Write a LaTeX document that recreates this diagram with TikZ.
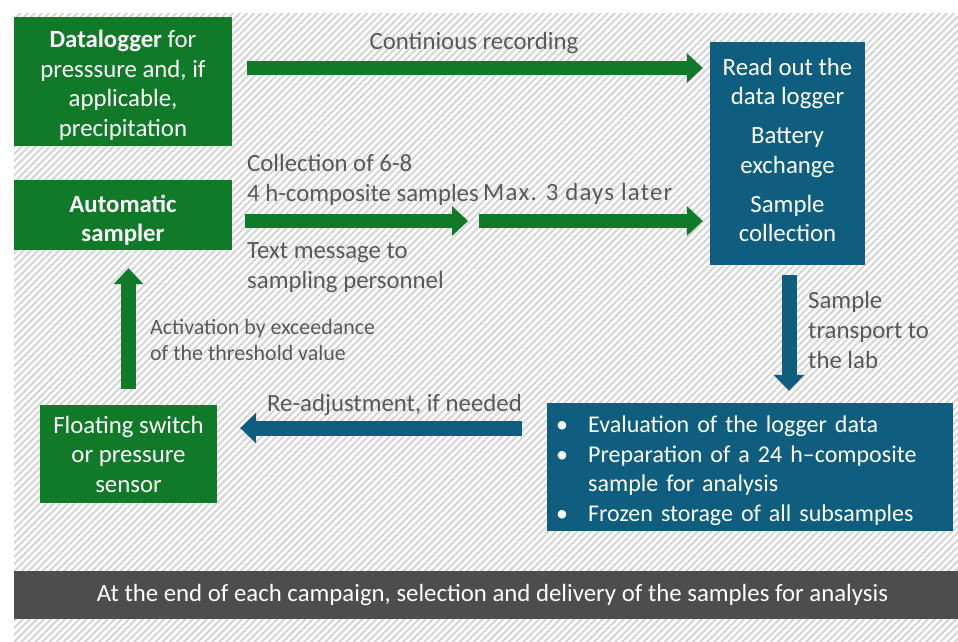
\documentclass[tikz,border=0pt]{standalone}
\usepackage{fontspec}
\setmainfont{Carlito}
\usetikzlibrary{arrows.meta,patterns.meta}
\definecolor{gfill}{HTML}{107A28}
\definecolor{bfill}{HTML}{0F5E80}
\definecolor{dbar}{HTML}{4D4D4D}
\definecolor{tgray}{HTML}{595959}
\definecolor{hatchc}{HTML}{D4D4D4}
\begin{document}
\begin{tikzpicture}[x=1pt,y=-1pt,
  every node/.style={font=\fontsize{24.8}{29.5}\selectfont},
  gbox/.style={fill=gfill, text=white, align=center, inner sep=0pt},
  bbox/.style={fill=bfill, text=white, align=center, inner sep=0pt},
  lbl/.style={text=tgray, align=left, inner sep=0pt},
  garrow/.style={draw=gfill, line width=14pt, -{Triangle[width=30pt,length=16pt,line width=0pt]}},
  barrow/.style={draw=bfill, line width=15pt, -{Triangle[width=31pt,length=16pt,line width=0pt]}},
]
\useasboundingbox (0,0) rectangle (958,642);
\fill[white] (0,0) rectangle (958,642);
\fill[pattern={Lines[angle=45,distance=5pt,line width=2pt]}, pattern color=hatchc] (14,14) rectangle (958,642);

% boxes
\node[gbox, minimum width=218, minimum height=129] (dl) at (123,81.5)
  {\rule{0pt}{25pt}\textbf{Datalogger} for\\presssure and, if\\applicable,\\precipitation};
\node[gbox, minimum width=218, minimum height=70] (as) at (123,215)
  {\rule{0pt}{27.5pt}\textbf{Automatic}\\\textbf{sampler}};
\node[gbox, minimum width=177, minimum height=98] (fs) at (128.5,454)
  {Floating switch\\or pressure\\sensor};
\node[bbox, minimum width=155, minimum height=223] (ro) at (787.5,153.5)
  {Read out the\\data logger\\[9.5pt]Battery\\exchange\\[9.5pt]Sample\\collection\rule[-7pt]{0pt}{7pt}};
\node[bbox, anchor=west, minimum width=406, minimum height=128, inner xsep=9pt,
      text width=388pt, align=left, font=\fontsize{24}{29.7}\selectfont] (ev) at (547,467)
  {\rule{0pt}{24pt}\makebox[32pt][l]{\textbullet}Evaluation of the logger data\\
   \makebox[32pt][l]{\textbullet}Preparation of a 24 h–composite\\
   \hspace*{32pt}sample for analysis\\
   \makebox[32pt][l]{\textbullet}Frozen storage of all subsamples};
\node[fill=dbar, text=white, minimum width=944, minimum height=48, inner sep=0pt] (bar) at (486,595)
  {\hspace*{13pt}At the end of each campaign, selection and delivery of the samples for analysis};

% labels
\node[lbl, anchor=base] (t1) at (474,50) {Continious recording};
\node[lbl, anchor=base west] (t2) at (247,201) {Collection of 6-8\\4 h-composite samples};
\node[lbl, anchor=base west] (t3) at (247,288) {Text message to\\sampling personnel};
\node[lbl, anchor=base west, font=\fontsize{24.8}{29.5}\selectfont\addfontfeature{LetterSpace=5}] (t4) at (483,200) {Max. 3 days later};
\node[lbl, anchor=base west, font=\fontsize{21.9}{26}\selectfont] (t5) at (150,360)
  {Activation by exceedance\\of the threshold value};
\node[lbl, anchor=base west, font=\fontsize{24.8}{30}\selectfont] (t6) at (808,368)
  {Sample\\transport to\\the lab};
\node[lbl, anchor=base west] (t7) at (267,411) {Re-adjustment, if needed};

% arrows
\coordinate (a1) at ([yshift=13.5pt]dl.east);
\draw[garrow, shorten <=15pt, shorten >=7pt] (a1) -- (a1 -| ro.west);
\coordinate (a2) at ([yshift=-6pt]as.east);
\coordinate (mid) at (473.5,221);
\draw[garrow, shorten <=13pt, shorten >=5.5pt] (a2) -- (mid);
\draw[garrow, shorten <=5.5pt, shorten >=7pt] (mid) -- (mid -| ro.west);
\draw[garrow, line width=15pt, shorten <=16pt, shorten >=18pt] (fs.north) -- (fs.north |- as.south);
\coordinate (a4) at ([xshift=1.5pt]ro.south);
\draw[barrow, shorten <=10pt, shorten >=12pt] (a4) -- (a4 |- ev.north);
\coordinate (a5) at ([yshift=39pt]ev.west);
\draw[barrow, shorten <=25pt, shorten >=23pt] (a5) -- (a5 -| fs.east);
\end{tikzpicture}
\end{document}
